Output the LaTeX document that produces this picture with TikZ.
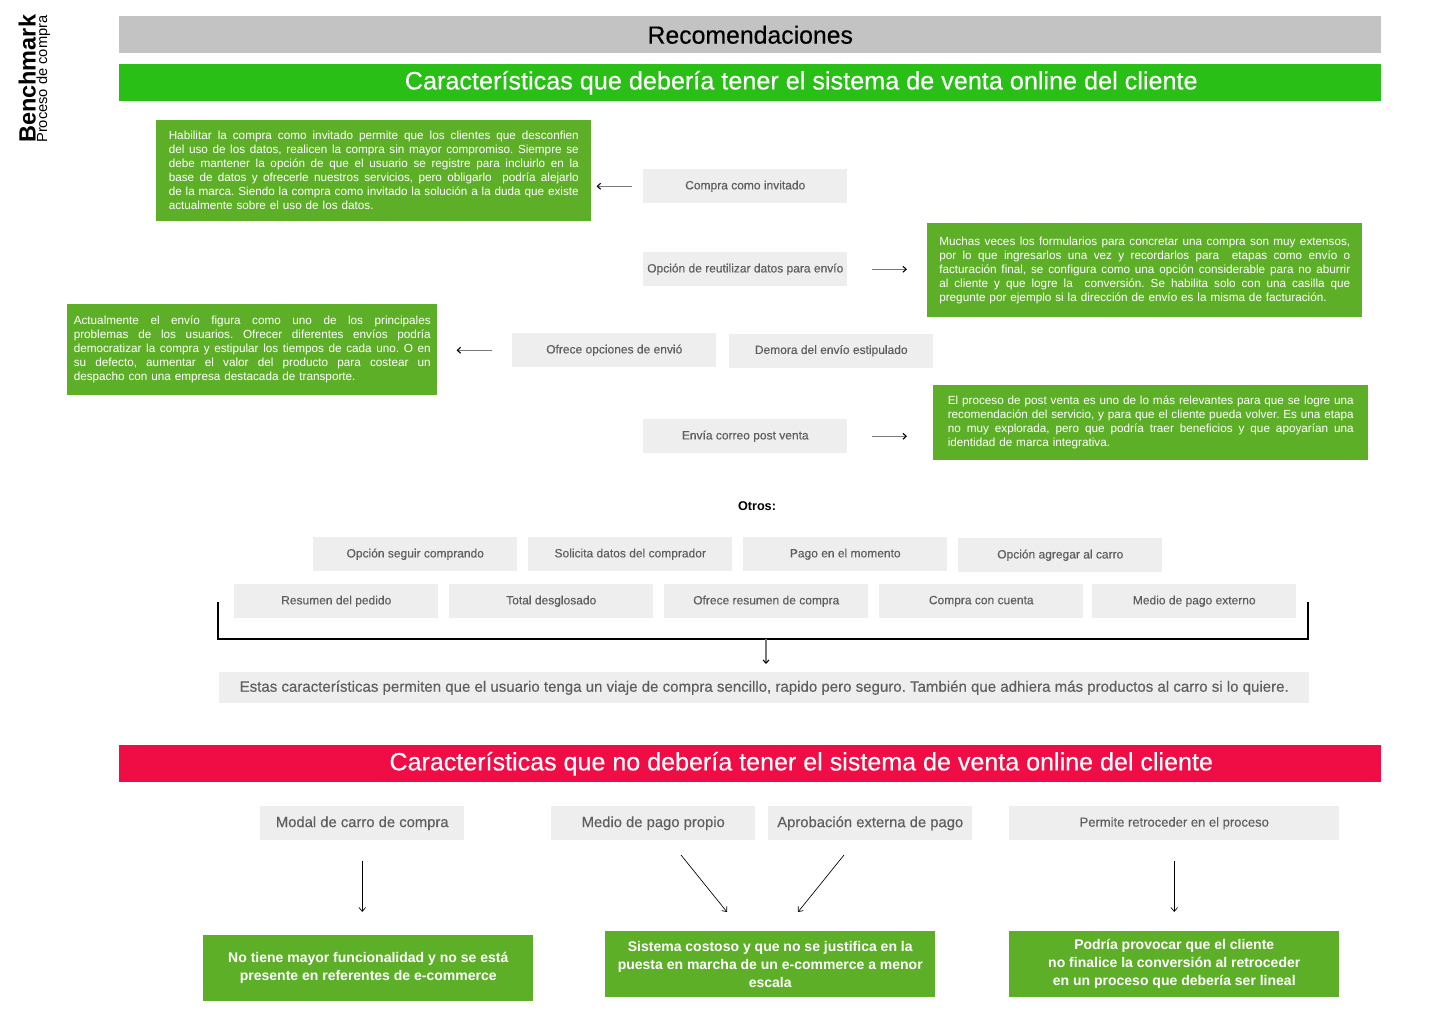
\documentclass[tikz,border=0pt]{standalone}
\usepackage{fontspec}
\setmainfont{Liberation Sans}
\newfontfamily\medfont[FakeBold=0.35]{Liberation Sans}
\usetikzlibrary{arrows.meta}
\definecolor{hdrgray}{HTML}{C3C3C3}
\definecolor{hdrgreen}{HTML}{2ABF17}
\definecolor{boxgreen}{HTML}{5EAF28}
\definecolor{boxgray}{HTML}{EEEEEE}
\definecolor{txtgray}{HTML}{5F5F5F}
\definecolor{hdrred}{HTML}{F00C45}
\definecolor{arrgray}{HTML}{7A7A7A}
\newcommand\jl[1]{\hbox to \hsize{\spaceskip=0pt\xspaceskip=0pt\relax #1}}
\frenchspacing
\begin{document}
\begin{tikzpicture}[x=0.75pt,y=-0.75pt,
  hdr/.style={anchor=north west, minimum width=946.5pt, minimum height=27.75pt, inner sep=0pt},
  gbox/.style={anchor=north west, fill=boxgray, minimum width=153pt, minimum height=25.5pt, inner sep=0pt, text=txtgray, font=\medfont\fontsize{9}{11}\selectfont},
  gtext/.style={anchor=north west, fill=boxgreen, inner sep=0pt, text=white, align=left, font=\frenchspacing\fontsize{8.8}{10.5}\selectfont},
  gres/.style={anchor=north west, fill=boxgreen, minimum width=247.5pt, minimum height=49.5pt, inner sep=0pt, text=white, align=center, font=\bfseries\fontsize{10.5}{13.5}\selectfont},
  garrow/.style={draw=arrgray, line width=1.1pt, -{Straight Barb[length=2.5pt,width=4.5pt,black,line width=0.8pt]}},
  karrow/.style={draw=black, line width=0.5pt, -{Straight Barb[length=3pt,width=5pt]}}
]
\useasboundingbox (0,0) rectangle (1440,1024);
\fill[white] (0,0) rectangle (1440,1024);

% side title
\node[rotate=90, anchor=base west, inner sep=0pt, font=\bfseries\fontsize{17.6}{20}\selectfont] (bm) at (35.5,143) {Benchmark};
\node[rotate=90, anchor=base west, inner sep=0pt, font=\fontsize{11}{13}\selectfont] (pc) at (47,143) {Proceso de compra};

% headers
\node[hdr, fill=hdrgray, text=black, font=\medfont\fontsize{18.6}{20}\selectfont] (rec) at (119,16) {Recomendaciones};
\node[hdr, fill=hdrgreen, text=white, font=\medfont\fontsize{18.9}{20}\selectfont] (pos) at (119,64) {\hspace*{76.5pt}Características que debería tener el sistema de venta online del cliente};

% green explanation boxes
\node[gtext, minimum width=326.25pt, minimum height=75.75pt, text width=307.5pt] (g1) at (156,120) {%
\jl{Habilitar la compra como invitado permite que los clientes que desconfien}
\jl{del uso de los datos, realicen la compra sin mayor compromiso. Siempre se}
\jl{debe mantener la opción de que el usuario se registre para incluirlo en la}
\jl{base de datos y ofrecerle nuestros servicios, pero obligarlo \ podría alejarlo}
\jl{de la marca. Siendo la compra como invitado la solución a la duda que existe}
actualmente sobre el uso de los datos.};

\node[gtext, minimum width=326.25pt, minimum height=70.5pt, text width=308.25pt] (g2) at (927,223) {%
\jl{Muchas veces los formularios para concretar una compra son muy extensos,}
\jl{por lo que ingresarlos una vez y recordarlos para \ etapas como envío o}
\jl{facturación final, se configura como una opción considerable para no aburrir}
\jl{al cliente y que logre la \ conversión. Se habilita solo con una casilla que}
pregunte por ejemplo si la dirección de envío es la misma de facturación.};

\node[gtext, minimum width=277.5pt, minimum height=68.25pt, text width=267.75pt] (g3) at (67,304) {%
\jl{Actualmente el envío figura como uno de los principales}
\jl{problemas de los usuarios. Ofrecer diferentes envíos podría}
\jl{democratizar la compra y estipular los tiempos de cada uno. O en}
\jl{su defecto, aumentar el valor del producto para costear un}
despacho con una empresa destacada de transporte.};

\node[gtext, minimum width=326.25pt, minimum height=56.25pt, text width=304.5pt] (g4) at (933,385) {%
\jl{El proceso de post venta es uno de lo más relevantes para que se logre una}
\jl{recomendación del servicio, y para que el cliente pueda volver. Es una etapa}
\jl{no muy explorada, pero que podría traer beneficios y que apoyarían una}
identidad de marca integrativa.};

% feature boxes
\node[gbox] (inv) at (643,169) {Compra como invitado};
\node[gbox] (reuse) at (643,252) {Opción de reutilizar datos para envío};
\node[gbox] (envio) at (512,333) {Ofrece opciones de envió};
\node[gbox] (demora) at (729,333.5) {Demora del envío estipulado};
\node[gbox] (correo) at (643,419) {Envía correo post venta};

\draw[garrow, shorten <=8.25pt, shorten >=3.75pt] (inv.west) -- (inv.west -| g1.east);
\draw[garrow, shorten <=18pt, shorten >=15pt] (reuse.east) -- (reuse.east -| g2.west);
\draw[garrow, shorten <=15pt, shorten >=14.25pt] (envio.west) -- (envio.west -| g3.east);
\draw[garrow, shorten <=18pt, shorten >=19.5pt] (correo.east) -- (correo.east -| g4.west);

% others
\node[font=\bfseries\fontsize{9.5}{11}\selectfont, inner sep=0pt] (otros) at (757,506) {Otros:};

\node[gbox] (seguir) at (313,537) {Opción seguir comprando};
\node[gbox] (solicita) at (528,537) {Solicita datos del comprador};
\node[gbox] (pago) at (743,537) {Pago en el momento};
\node[gbox] (agregar) at (958,538) {Opción agregar al carro};

\node[gbox] (resumen) at (234,584) {Resumen del pedido};
\node[gbox] (total) at (449,584) {Total desglosado};
\node[gbox] (ofrece) at (664,584) {Ofrece resumen de compra};
\node[gbox] (cuenta) at (879,584) {Compra con cuenta};
\node[gbox] (externo) at (1092,584) {Medio de pago externo};

\coordinate (br1) at (218,602);
\coordinate (br2) at (218,639);
\coordinate (br3) at (1308,639);
\coordinate (br4) at (1308,602);
\coordinate (brm) at (766,639);
\draw[black, line width=0.9pt] (br1) -- (br2) -- (br3) -- (br4);

\node[gbox, minimum width=817.5pt, minimum height=23.25pt, font=\medfont\fontsize{11.28}{13}\selectfont] (res) at (219,672) {Estas características permiten que el usuario tenga un viaje de compra sencillo, rapido pero seguro. También que adhiera más productos al carro si lo quiere.};
\draw[garrow, line width=0.9pt, shorten >=6pt] (brm) -- (brm |- res.north);

% negative section
\node[hdr, fill=hdrred, text=white, font=\medfont\fontsize{18.8}{20}\selectfont] (neg) at (119,745) {\hspace*{76.5pt}Características que no debería tener el sistema de venta online del cliente};

\node[gbox, font=\medfont\fontsize{11.1}{13}\selectfont] (modal) at (260,806) {Modal de carro de compra};
\node[gbox, font=\medfont\fontsize{11.1}{13}\selectfont] (mpago) at (551,806) {Medio de pago propio};
\node[gbox, font=\medfont\fontsize{11.1}{13}\selectfont] (aprob) at (768,806) {Aprobación externa de pago};
\node[gbox, minimum width=247.5pt, font=\medfont\fontsize{9.75}{11}\selectfont] (permite) at (1009,806) {Permite retroceder en el proceso};

\node[gres] (g5) at (203,935) {No tiene mayor funcionalidad y no se está\\presente en referentes de e-commerce};
\node[gres] (g6) at (605,931) {Sistema costoso y que no se justifica en la\\puesta en marcha de un e-commerce a menor\\escala};
\node[gres] (g7) at (1009,931) {Podría provocar que el cliente\\no finalice la conversión al retroceder\\en un proceso que debería ser lineal};

\coordinate (d1s) at (681,855);
\coordinate (d1e) at (727,912);
\coordinate (d2s) at (844,855);
\coordinate (d2e) at (798,912);
\draw[karrow, shorten <=15pt, shorten >=17.25pt] (modal.south) -- (modal.south |- g5.north);
\draw[karrow] (d1s) -- (d1e);
\draw[karrow] (d2s) -- (d2e);
\draw[karrow, shorten <=15pt, shorten >=14.25pt] (permite.south) -- (permite.south |- g7.north);
\end{tikzpicture}
\end{document}
